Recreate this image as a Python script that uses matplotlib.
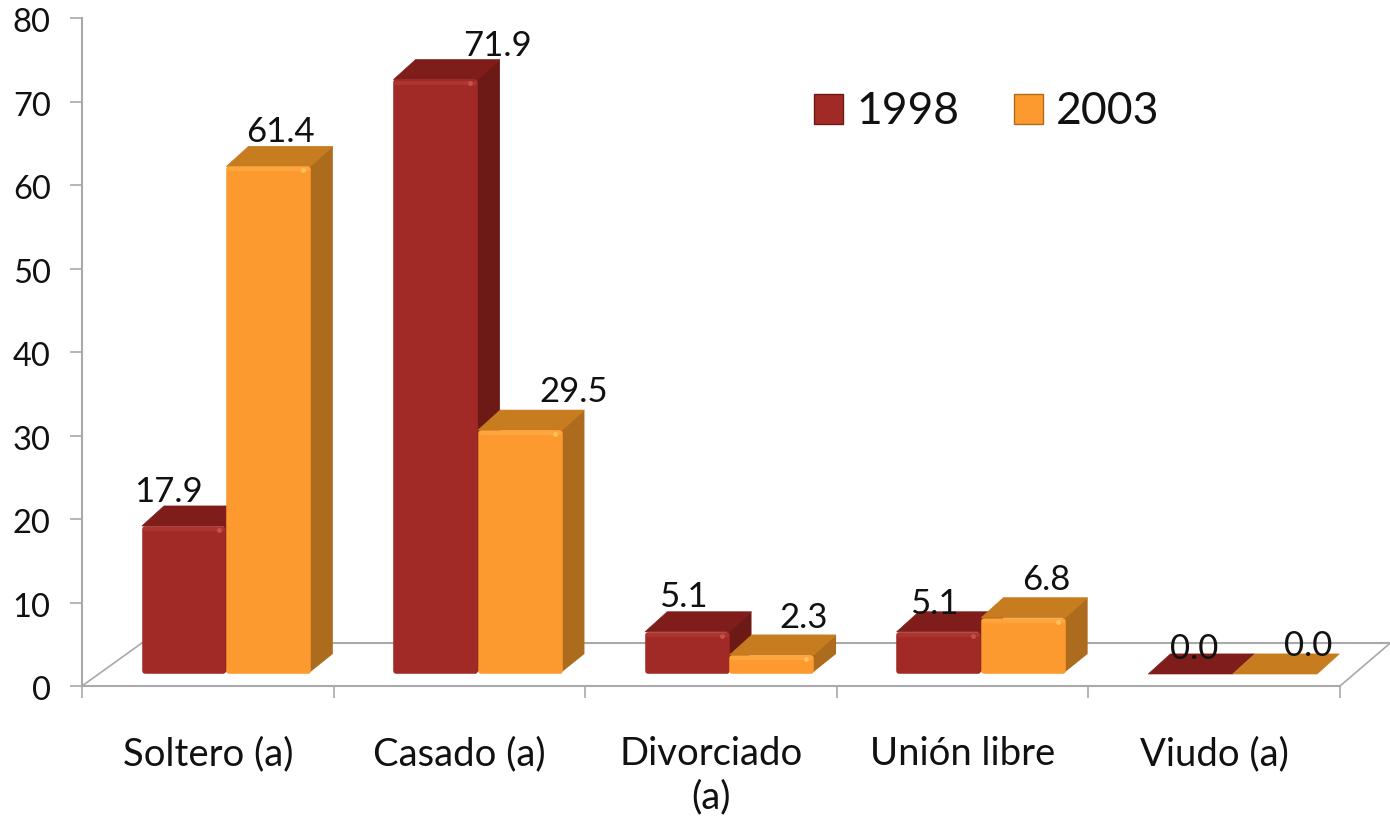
import numpy as np
import matplotlib
matplotlib.use("Agg")
import matplotlib.pyplot as plt
from matplotlib.patches import Patch
from matplotlib.transforms import ScaledTranslation

categories = ["Soltero (a)", "Casado (a)", "Divorciado\n(a)", "Unión libre", "Viudo (a)"]
years = ["1998", "2003"]
values_1998 = [17.9, 71.9, 5.1, 5.1, 0.0]
values_2003 = [61.4, 29.5, 2.3, 6.8, 0.0]
y_ticks = [0, 10, 20, 30, 40, 50, 60, 70, 80]

plt.rcParams['font.family'] = ['Lato', 'DejaVu Sans']

W, H = 1390, 819
GREY = '#a9a9a9'
# front, side, top, highlight
RED = ('#a12a26', '#6d1a17', '#7f1d1b', '#c8504a')
ORANGE = ('#fd9a2f', '#ad6b1d', '#c67c1f', '#ffc25e')

BASE = 1.44      # bars stand a bit in front of the axis
FRONT = 0.99     # front plane of the 3d box is a little smaller than the axis
BAR_W = 0.335
GAP = 0.001
X0 = 0.238
DX, DY = 0.088, 2.4
INX, INY = 0.011, 0.335   # inset so the thick round edge stays inside the bar


def bar3d(ax, x0, v, cols, z):
    y0 = BASE
    y1 = BASE + v * FRONT
    x1 = x0 + BAR_W
    ax.fill([x1 - INX, x1 + DX, x1 + DX, x1 - INX], [y0, y0 + DY, y1 + DY, y1],
            color=cols[1], lw=0, zorder=z)
    ax.fill([x0, x0 + DX, x1 + DX, x1], [y1, y1 + DY, y1 + DY, y1],
            color=cols[2], lw=0.5, zorder=z)
    if v > 0:
        b = ax.bar(x0 + INX, v * FRONT - 2 * INY, BAR_W - 2 * INX, bottom=y0 + INY, align='edge',
                   color=cols[0], edgecolor=cols[0], lw=4, zorder=z + 0.1)
        b[0].set_joinstyle('round')
        # soft bevel along the top edge, plus the small shine in the corner
        ax.plot([x0 + INX, x1 - INX], [y1 - 0.35, y1 - 0.35], color=cols[3], lw=3,
                alpha=0.3, zorder=z + 0.2, solid_capstyle='round')
        ax.plot([x1 - 0.03], [y1 - 0.45], 'o', ms=3.5, color=cols[3], mew=0,
                zorder=z + 0.3)


fig = plt.figure(figsize=(W / 100, H / 100), dpi=100)
ax = fig.add_axes([82 / W, (H - 686) / H, 1258 / W, 668 / H])
ax.set_xlim(0, 5)
ax.set_ylim(0, 80)

# floor of the 3d box
back = 5.15
floor_dx = 0.238
ax.plot([floor_dx, 5.2], [back, back], color=GREY, lw=1.5, clip_on=False, zorder=1)
ax.plot([0, floor_dx], [0, back], color=GREY, lw=1.2, clip_on=False, zorder=1)
ax.plot([5, 5.2], [0, back], color=GREY, lw=1.2, clip_on=False, zorder=1)

for i in range(len(categories)):
    bar3d(ax, i + X0, values_1998[i], RED, 3 + i)
    bar3d(ax, i + X0 + BAR_W + GAP, values_2003[i], ORANGE, 3.5 + i)

# data labels: pixel offset from the front-left corner of each bar top
offs_1998 = [(27, 34), (104, 34), (38, 35), (38, 28), (46, 25)]
offs_2003 = [(54, 34), (96, 38), (74, 37), (65, 38), (75, 28)]
for i in range(len(categories)):
    for vals, offs, shift in ((values_1998, offs_1998, 0), (values_2003, offs_2003, BAR_W + GAP)):
        ax.annotate("%.1f" % vals[i], (i + X0 + shift, BASE + vals[i] * FRONT),
                    xytext=offs[i], textcoords='offset pixels', ha='center',
                    va='center', fontsize=25, color='#111111', zorder=20)

for s in ('top', 'right'):
    ax.spines[s].set_visible(False)
for s in ('left', 'bottom'):
    ax.spines[s].set_color(GREY)
    ax.spines[s].set_linewidth(1.5)

ax.set_yticks(y_ticks)
ax.tick_params(axis='y', length=8.5, width=1.2, color=GREY, pad=14, labelsize=23.5,
               labelcolor='#111111')
# labels sit a touch under their ticks in the original
for lab in ax.get_yticklabels():
    lab.set_transform(lab.get_transform() + ScaledTranslation(0, -1.5 / 72, fig.dpi_scale_trans))
ax.set_xticks(np.arange(len(categories)) + 0.5)
ax.set_xticklabels(categories, linespacing=1.25)
ax.set_xticks(np.arange(len(categories) + 1), minor=True)
ax.tick_params(axis='x', which='major', length=0, pad=36, labelsize=27.5, labelcolor='#111111')
ax.tick_params(axis='x', which='minor', length=8.5, width=1.2, color=GREY)

handles = [Patch(facecolor=RED[0], edgecolor=RED[1], lw=1),
           Patch(facecolor=ORANGE[0], edgecolor=ORANGE[1], lw=1)]
ax.legend(handles, years, ncol=2, frameon=False, fontsize=32,
          handlelength=0.65, handleheight=0.65, handletextpad=0.30, columnspacing=1.22,
          loc='center left', bbox_to_anchor=(792 / W, (H - 112) / H),
          bbox_transform=fig.transFigure, borderpad=0, labelcolor='#111111')

fig.savefig("out.png", dpi=100)
